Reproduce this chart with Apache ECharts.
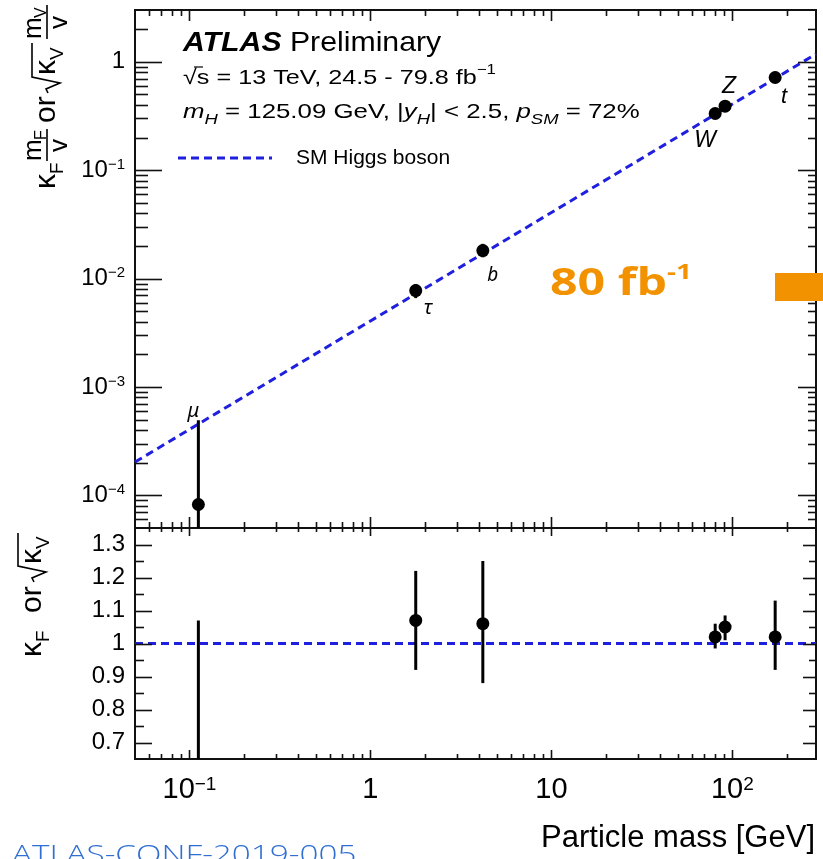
<!DOCTYPE html>
<html>
<head>
<meta charset="utf-8">
<script src="https://cdn.jsdelivr.net/npm/echarts@6/dist/echarts.min.js"></script>
<style>
  html, body { margin: 0; padding: 0; background: #ffffff; }
  #chart { width: 823px; height: 859px; }
</style>
</head>
<body>
<div id="chart"></div>
<script>
// Reduced coupling strengths vs particle mass, with the ratio to the SM expectation
const particles = ['μ', 'τ', 'b', 'W', 'Z', 't'];
const mass = [0.112, 1.78, 4.18, 80.4, 91.2, 172.5];
const coupling = [8.24e-5, 7.75e-3, 0.0181, 0.333, 0.389, 0.715];
const couplingLo = [1e-6, 6.6e-3, 0.0157, 0.321, 0.375, 0.655];
const couplingHi = [4.93e-4, 8.9e-3, 0.0209, 0.346, 0.402, 0.81];
const kappa = [0.18, 1.07, 1.06, 1.02, 1.05, 1.02];
const kappaLo = [0, 0.92, 0.88, 0.985, 1.01, 0.92];
const kappaHi = [1.07, 1.22, 1.25, 1.06, 1.085, 1.13];

// SM Higgs boson expectation (straight line on log-log axes)
const smLine = [[0.05, 2.03e-4], [290, 1.179]];
const smRatio = [[0.05, 1], [290, 1]];

// Axis ranges and ticks
const xRange = [0.05, 290];
const yRange = [5e-5, 3];
const ratioRange = [0.65, 1.35];
const xMajorTicks = [0.1, 1, 10, 100];
const yMajorTicks = [1e-4, 1e-3, 1e-2, 1e-1, 1];
const ratioMajorTicks = [0.7, 0.8, 0.9, 1.0, 1.1, 1.2, 1.3];

const FONT = '"Liberation Sans", Arial, Helvetica, sans-serif';
const BLUE = '#1f1fe0';
const INK = '#111111';

function logMinors(lo, hi) {
  const out = [];
  for (let e = -6; e <= 3; e++) {
    for (let k = 2; k <= 9; k++) {
      const v = k * Math.pow(10, e);
      if (v > lo * 1.0001 && v < hi * 0.9999) out.push(v);
    }
  }
  return out;
}
const ratioMinorTicks = ratioMajorTicks.map(v => +(v + 0.05).toFixed(2)).filter(v => v < ratioRange[1] - 1e-6);

// tick items: [x, y, kind]  kind 0 = x major, 1 = x minor, 2 = y major, 3 = y minor
const topTicks = [].concat(
  xMajorTicks.map(v => [v, 1, 0]),
  logMinors(xRange[0], xRange[1]).map(v => [v, 1, 1]),
  yMajorTicks.map(v => [1, v, 2]),
  logMinors(yRange[0], yRange[1]).map(v => [1, v, 3])
);
const ratioTicks = [].concat(
  xMajorTicks.map(v => [v, 1, 0]),
  logMinors(xRange[0], xRange[1]).map(v => [v, 1, 1]),
  ratioMajorTicks.map(v => [1, v, 2]),
  ratioMinorTicks.map(v => [1, v, 3])
);

function tickRenderer(len) {
  return function (params, api) {
    const cs = params.coordSys;
    const kind = api.value(2);
    const style = { stroke: INK, lineWidth: 1.6 };
    const p = api.coord([api.value(0), api.value(1)]);
    if (kind < 2) {
      const x = Math.round(p[0]) + 0.5;
      const lt = kind === 0 ? len.top[0] : len.top[1];
      const lb = kind === 0 ? len.bottom[0] : len.bottom[1];
      return { type: 'group', children: [
        { type: 'line', shape: { x1: x, y1: cs.y, x2: x, y2: cs.y + lt }, style },
        { type: 'line', shape: { x1: x, y1: cs.y + cs.height, x2: x, y2: cs.y + cs.height - lb }, style }
      ] };
    }
    const y = Math.round(p[1]) + 0.5;
    const ll = kind === 2 ? len.left[0] : len.left[1];
    const lr = kind === 2 ? len.right[0] : len.right[1];
    return { type: 'group', children: [
      { type: 'line', shape: { x1: cs.x, y1: y, x2: cs.x + ll, y2: y }, style },
      { type: 'line', shape: { x1: cs.x + cs.width, y1: y, x2: cs.x + cs.width - lr, y2: y }, style }
    ] };
  };
}

function pointRenderer(params, api) {
  const x = api.value(0);
  const c = api.coord([x, api.value(1)]);
  const lo = api.coord([x, api.value(2)]);
  const hi = api.coord([x, api.value(3)]);
  return { type: 'group', children: [
    { type: 'line', shape: { x1: c[0], y1: lo[1], x2: c[0], y2: hi[1] }, style: { stroke: '#000', lineWidth: 3 } },
    { type: 'circle', shape: { cx: c[0], cy: c[1], r: 6.5 }, style: { fill: '#000' } }
  ] };
}

// particle name tags placed relative to each point
const tagOffsets = [[-5, -93], [12, 18], [10, 25], [-10, 27], [4, -20], [9, 19]];
const tagFonts = [
  'italic 20px "Noto Sans", sans-serif',
  'italic 20px "Noto Sans", sans-serif',
  'italic 19px "Noto Sans", sans-serif',
  'italic 23px ' + FONT,
  'italic 23px ' + FONT,
  'italic 22px ' + FONT
];
function tagRenderer(params, api) {
  const i = api.value(2);
  const c = api.coord([api.value(0), api.value(1)]);
  return {
    type: 'text', x: c[0] + tagOffsets[i][0], y: c[1] + tagOffsets[i][1],
    style: { text: particles[i], font: tagFonts[i], fill: '#000', align: 'center', verticalAlign: 'middle' }
  };
}

function powLabel(v) {
  const lg = Math.log10(v);
  const e = Math.round(lg);
  if (Math.abs(lg - e) > 1e-6) return '';
  if (e === 0) return '{b|1}';
  if (e === 1) return '{b|10}';
  return '{b|10}{s|' + (e < 0 ? '\u2212' + (-e) : e) + '}';
}

const topData = mass.map((m, i) => [m, coupling[i], couplingLo[i], couplingHi[i]]);
const ratioData = mass.map((m, i) => [m, kappa[i], kappaLo[i], kappaHi[i]]);
const tagData = mass.map((m, i) => [m, coupling[i], i]);

const chart = echarts.init(document.getElementById('chart'), null, { renderer: 'canvas' });

function xAxisCfg(grid, labels) {
  return {
    type: 'log', logBase: 10, gridIndex: grid, min: xRange[0], max: xRange[1],
    axisLine: { show: false }, axisTick: { show: false }, splitLine: { show: false },
    axisLabel: {
      show: labels, margin: 16, formatter: powLabel,
      rich: {
        b: { fontFamily: FONT, fontSize: 29, lineHeight: 30, color: '#000' },
        s: { fontFamily: FONT, fontSize: 19, lineHeight: 18, verticalAlign: 'top', color: '#000' }
      }
    }
  };
}

// rotated axis titles built from pieces
function piece(text, lx, base, size, extra) {
  return {
    type: 'text', x: lx, y: base - 0.36 * size,
    style: Object.assign({ text, fill: '#000', font: size + 'px ' + FONT, verticalAlign: 'middle', align: 'left' }, extra || {})
  };
}
function radical(x0, x1, top) {
  return { type: 'polyline', shape: { points: [[x0, -10], [x0 + 4, -12], [x0 + 10, 2], [x0 + 16, top], [x1, top]] },
    style: { stroke: '#000', lineWidth: 1.6, fill: null } };
}
function bar(x0, x1, y) {
  return { type: 'line', shape: { x1: x0, y1: y, x2: x1, y2: y }, style: { stroke: '#000', lineWidth: 1.6 } };
}

const topTitle = {
  type: 'group', x: 58, y: 189, rotation: Math.PI / 2, silent: true,
  children: [
    piece('κ', 0, 0, 30), piece('F', 15, 7, 19),
    bar(28, 60, -11), piece('m', 28, -15, 26), piece('F', 49, -11, 16), piece('v', 37, 11, 26),
    piece('or', 66, 0, 30),
    radical(96, 146, -26), piece('κ', 114, 0, 30), piece('V', 129, 7, 19),
    bar(150, 184, -11), piece('m', 150, -15, 26), piece('V', 171, -11, 16), piece('v', 160, 11, 26)
  ]
};
const ratioTitle = {
  type: 'group', x: 44, y: 657, rotation: Math.PI / 2, silent: true,
  children: [
    piece('κ', 0, 0, 30), piece('F', 15, 7, 19),
    piece('or', 44, 0, 30),
    radical(75, 124, -26), piece('κ', 93, 0, 30), piece('V', 108, 7, 19)
  ]
};

const option = {
  animation: false,
  backgroundColor: '#ffffff',
  grid: [
    { left: 135, top: 10, width: 681, height: 518, show: true, borderColor: INK, borderWidth: 2, backgroundColor: 'transparent' },
    { left: 135, top: 528, width: 681, height: 231, show: true, borderColor: INK, borderWidth: 2, backgroundColor: 'transparent' }
  ],
  xAxis: [xAxisCfg(0, false), xAxisCfg(1, true)],
  yAxis: [
    {
      type: 'log', logBase: 10, gridIndex: 0, min: yRange[0], max: yRange[1],
      axisLine: { show: false }, axisTick: { show: false }, splitLine: { show: false },
      axisLabel: {
        margin: 10, formatter: powLabel,
        rich: {
          b: { fontFamily: FONT, fontSize: 24, lineHeight: 26, color: '#000' },
          s: { fontFamily: FONT, fontSize: 15, lineHeight: 14, verticalAlign: 'top', color: '#000' }
        }
      }
    },
    {
      type: 'value', gridIndex: 1, min: ratioRange[0], max: ratioRange[1], splitNumber: 7,
      axisLine: { show: false }, axisTick: { show: false }, splitLine: { show: false },
      axisLabel: {
        margin: 10, fontFamily: FONT, fontSize: 24, color: '#000',
        formatter: v => (Math.abs(v * 10 - Math.round(v * 10)) < 1e-6 ? String(+v.toFixed(1)) : '')
      }
    }
  ],
  series: [
    { type: 'custom', xAxisIndex: 0, yAxisIndex: 0, data: topTicks, clip: false, silent: true, z: 5,
      renderItem: tickRenderer({ top: [11, 6], bottom: [11, 6], left: [27, 13], right: [18, 8] }) },
    { type: 'line', xAxisIndex: 0, yAxisIndex: 0, data: smLine, symbol: 'none', silent: true, z: 2,
      lineStyle: { color: BLUE, width: 3, type: [8, 5] } },
    { type: 'custom', xAxisIndex: 0, yAxisIndex: 0, data: topData, clip: true, silent: true, z: 3,
      renderItem: pointRenderer },
    { type: 'custom', xAxisIndex: 0, yAxisIndex: 0, data: tagData, clip: false, silent: true, z: 4,
      renderItem: tagRenderer },
    { type: 'custom', xAxisIndex: 1, yAxisIndex: 1, data: ratioTicks, clip: false, silent: true, z: 5,
      renderItem: tickRenderer({ top: [8, 4], bottom: [9, 5], left: [17, 9], right: [13, 7] }) },
    { type: 'line', xAxisIndex: 1, yAxisIndex: 1, data: smRatio, symbol: 'none', silent: true, z: 2,
      lineStyle: { color: BLUE, width: 3, type: [8, 5] } },
    { type: 'custom', xAxisIndex: 1, yAxisIndex: 1, data: ratioData, clip: true, silent: true, z: 3,
      renderItem: pointRenderer }
  ],
  graphic: [
    topTitle,
    ratioTitle,
    {
      type: 'text', x: 183, y: 43, scaleX: 1.08, silent: true,
      style: {
        text: '{a|ATLAS}{p| Preliminary}', verticalAlign: 'middle', fill: '#000',
        rich: {
          a: { fontFamily: FONT, fontSize: 28, fontWeight: 'bold', fontStyle: 'italic', fill: '#000' },
          p: { fontFamily: FONT, fontSize: 28, fill: '#000' }
        }
      }
    },
    {
      type: 'line', silent: true, shape: { x1: 194, y1: 67, x2: 203, y2: 67 },
      style: { stroke: '#000', lineWidth: 1.2 }
    },
    {
      type: 'text', x: 183, y: 78, scaleX: 1.2, silent: true,
      style: {
        text: '{n|√s = 13 TeV, 24.5 - 79.8 fb}{s|\u22121}', verticalAlign: 'middle', fill: '#000',
        rich: {
          n: { fontFamily: FONT, fontSize: 21, lineHeight: 30, fill: '#000' },
          s: { fontFamily: FONT, fontSize: 14, lineHeight: 18, verticalAlign: 'top', fill: '#000' }
        }
      }
    },
    {
      type: 'text', x: 183, y: 112, scaleX: 1.23, silent: true,
      style: {
        text: '{i|m}{u|H}{n| = 125.09 GeV, |}{i|y}{u|H}{n|| < 2.5, }{i|p}{u|SM}{n| = 72%}', verticalAlign: 'middle', fill: '#000',
        rich: {
          n: { fontFamily: FONT, fontSize: 21, lineHeight: 30, fill: '#000' },
          i: { fontFamily: FONT, fontSize: 21, lineHeight: 30, fontStyle: 'italic', fill: '#000' },
          u: { fontFamily: FONT, fontSize: 15, lineHeight: 10, verticalAlign: 'bottom', fontStyle: 'italic', fill: '#000' }
        }
      }
    },
    {
      type: 'line', silent: true, shape: { x1: 178, y1: 158, x2: 272, y2: 158 },
      style: { stroke: BLUE, lineWidth: 3, lineDash: [8, 5] }
    },
    {
      type: 'text', x: 296, y: 158, silent: true,
      style: { text: 'SM Higgs boson', font: '21px ' + FONT, fill: '#000', verticalAlign: 'middle' }
    },
    {
      type: 'text', x: 815, y: 838, silent: true,
      style: { text: 'Particle mass [GeV]', font: '31px ' + FONT, fill: '#000', align: 'right', verticalAlign: 'middle' }
    },
    {
      type: 'text', x: 550, y: 284, scaleX: 1.27, silent: true, z: 100,
      style: {
        text: '{o|80 fb}{s|-1}', verticalAlign: 'middle', fill: '#F39200',
        rich: {
          o: { fontFamily: '"Open Sans", sans-serif', fontWeight: 'bold', fontSize: 38, lineHeight: 44, fill: '#F39200' },
          s: { fontFamily: '"Open Sans", sans-serif', fontWeight: 'bold', fontSize: 22, lineHeight: 26, verticalAlign: 'top', fill: '#F39200' }
        }
      }
    },
    {
      type: 'rect', silent: true, z: 100, shape: { x: 775, y: 273, width: 48, height: 28 },
      style: { fill: '#F39200' }
    },
    {
      type: 'text', x: 12, y: 843, scaleX: 1.28, silent: true,
      style: { text: 'ATLAS-CONF-2019-005', font: '300 26px "Open Sans", sans-serif', fill: '#2F6ED3', verticalAlign: 'top' }
    }
  ]
};

chart.setOption(option);
</script>
</body>
</html>
